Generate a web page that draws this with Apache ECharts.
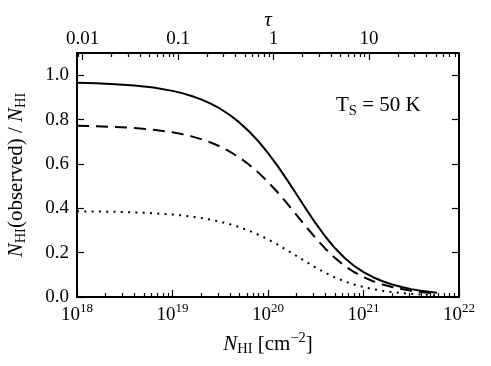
<!DOCTYPE html>
<html><head><meta charset="utf-8">
<script src="https://cdn.jsdelivr.net/npm/echarts@6/dist/echarts.min.js"></script>
<style>html,body{margin:0;padding:0;background:#fff}#c{width:491px;height:366px}</style>
</head><body><div id="c"></div>
<script>
// log10 of N_HI [cm^-2]
const logN = [18.0,18.2,18.4,18.6,18.8,19.0,19.1,19.2,19.3,19.4,19.5,19.6,19.7,19.8,19.9,20.0,20.1,20.2,20.3,20.4,20.5,20.6,20.7,20.8,20.9,21.0,21.1,21.2,21.3,21.4,21.5,21.6,21.7,21.77];
const solidFrac  = [0.9658,0.9634,0.9595,0.9535,0.9440,0.9292,0.9191,0.9064,0.8909,0.8718,0.8487,0.8206,0.7871,0.7475,0.7016,0.6492,0.5910,0.5279,0.4620,0.3956,0.3316,0.2727,0.2208,0.1770,0.1410,0.1121,0.0891,0.0708,0.0562,0.0447,0.0355,0.0282,0.0224,0.0190];
const dashedFrac = [0.7717,0.7697,0.7666,0.7618,0.7542,0.7424,0.7343,0.7242,0.7118,0.6965,0.6781,0.6557,0.6289,0.5973,0.5606,0.5187,0.4722,0.4218,0.3691,0.3161,0.2650,0.2179,0.1764,0.1414,0.1127,0.0896,0.0712,0.0565,0.0449,0.0357,0.0283,0.0225,0.0179,0.0152];
const dottedFrac = [0.3863,0.3853,0.3838,0.3814,0.3776,0.3717,0.3676,0.3626,0.3564,0.3487,0.3395,0.3283,0.3149,0.2990,0.2806,0.2597,0.2364,0.2112,0.1848,0.1582,0.1326,0.1091,0.0883,0.0708,0.0564,0.0448,0.0356,0.0283,0.0225,0.0179,0.0142,0.0113,0.0090,0.0076];

const bottomTicks = [18,19,20,21,22];
const bottomLabels = ['18','19','20','21','22'];
const topTicks = [-2,-1,0,1];          // log10(tau)
const topLabels = ['0.01','0.1','1','10'];
const yTicks = [0,0.2,0.4,0.6,0.8,1.0];
const yLabels = ['0.0','0.2','0.4','0.6','0.8','1.0'];
const topMin = -2.058, topMax = 1.942;

function minorTicks(n0, n1, lo, hi){
  const out = [];
  for (let n = n0; n <= n1; n++) for (let k = 2; k <= 9; k++){
    const v = n + Math.log10(k); if (v > lo && v < hi) out.push(v);
  }
  return out;
}
const FONT = 'Liberation Serif';
const rich = {
  b: {fontFamily: FONT, fontSize: 19, color: '#000', lineHeight: 26},
  s: {fontFamily: FONT, fontSize: 13, color: '#000', lineHeight: 14, verticalAlign: 'top'},
  i: {fontFamily: FONT, fontSize: 21, fontStyle: 'italic', color: '#000', lineHeight: 26},
  r: {fontFamily: FONT, fontSize: 21, color: '#000', lineHeight: 26},
  sub: {fontFamily: FONT, fontSize: 14.5, color: '#000', lineHeight: 16, verticalAlign: 'bottom'},
  sup: {fontFamily: FONT, fontSize: 14.5, color: '#000', lineHeight: 16, verticalAlign: 'top'}
};
const spine = {show: true, onZero: false, lineStyle: {color: '#000', width: 2}};
const noLine = {show: false, onZero: false};
const tickStyle = {color: '#000', width: 1.2};

const chart = echarts.init(document.getElementById('c'), null, {renderer: 'canvas'});
chart.setOption({
  animation: false,
  backgroundColor: '#fff',
  grid: {left: 77, top: 53, width: 382, height: 244, containLabel: false, outerBoundsMode: 'none'},
  xAxis: [
    {type: 'value', position: 'bottom', min: 18, max: 22, axisLine: spine,
     axisTick: {inside: true, length: 7, customValues: bottomTicks, lineStyle: tickStyle},
     axisLabel: {customValues: bottomTicks, margin: 5, rich: rich,
       formatter: v => '{b|10}{s|' + bottomLabels[bottomTicks.indexOf(Math.round(v))] + '}'},
     splitLine: {show: false},
     name: '{i|N}{sub|HI}{r| [cm}{sup|−2}{r|]}', nameLocation: 'middle', nameGap: 34, nameMoveOverlap: false,
     nameTextStyle: {rich: rich}},
    {type: 'value', position: 'bottom', min: 18, max: 22, axisLine: noLine,
     axisTick: {inside: true, length: 4, customValues: minorTicks(18, 21, 18, 22), lineStyle: tickStyle},
     axisLabel: {show: false}, splitLine: {show: false}},
    {type: 'value', position: 'top', min: topMin, max: topMax, axisLine: spine,
     axisTick: {inside: true, length: 7, customValues: topTicks, lineStyle: tickStyle},
     axisLabel: {customValues: topTicks, margin: 4, fontFamily: FONT, fontSize: 19, color: '#000',
       formatter: v => topLabels[topTicks.indexOf(Math.round(v))]},
     splitLine: {show: false},
     name: 'τ', nameLocation: 'middle', nameGap: 22, nameMoveOverlap: false,
     nameTextStyle: {fontFamily: FONT, fontSize: 21, fontStyle: 'italic', color: '#000'}},
    {type: 'value', position: 'top', min: topMin, max: topMax, axisLine: noLine,
     axisTick: {inside: true, length: 4, customValues: minorTicks(-3, 1, topMin, topMax), lineStyle: tickStyle},
     axisLabel: {show: false}, splitLine: {show: false}}
  ],
  yAxis: [
    {type: 'value', position: 'left', min: 0, max: 1.1, axisLine: spine,
     axisTick: {inside: true, length: 7, customValues: yTicks, lineStyle: tickStyle},
     axisLabel: {customValues: yTicks, margin: 8, fontFamily: FONT, fontSize: 19, color: '#000',
       formatter: v => yLabels[yTicks.findIndex(t => Math.abs(t - v) < 1e-6)]},
     splitLine: {show: false},
     name: '{i|N}{sub|HI}{r|(observed) / }{i|N}{sub|HI}', nameLocation: 'middle', nameGap: 48, nameRotate: 90,
     nameMoveOverlap: false, nameTextStyle: {rich: rich}},
    {type: 'value', position: 'right', min: 0, max: 1.1, axisLine: spine,
     axisTick: {inside: true, length: 7, customValues: yTicks, lineStyle: tickStyle},
     axisLabel: {show: false}, splitLine: {show: false}}
  ],
  series: [
    {type: 'line', xAxisIndex: 0, yAxisIndex: 0, showSymbol: false, smooth: false,
     data: logN.map((x, i) => [x, solidFrac[i]]),
     lineStyle: {color: '#000', width: 2, type: 'solid', join: 'round'}},
    {type: 'line', xAxisIndex: 0, yAxisIndex: 0, showSymbol: false, smooth: false,
     data: logN.map((x, i) => [x, dashedFrac[i]]),
     lineStyle: {color: '#000', width: 2, type: [12, 7], cap: 'butt', join: 'round'}},
    {type: 'line', xAxisIndex: 0, yAxisIndex: 0, showSymbol: false, smooth: false,
     data: logN.map((x, i) => [x, dottedFrac[i]]),
     lineStyle: {color: '#000', width: 2, type: [2, 5.3], cap: 'butt', join: 'round'}}
  ],
  graphic: [
    {type: 'text', left: 336, top: 95,
     style: {text: '{r|T}{sub|S}{r| = 50 K}', rich: rich}}
  ]
});
</script></body></html>
